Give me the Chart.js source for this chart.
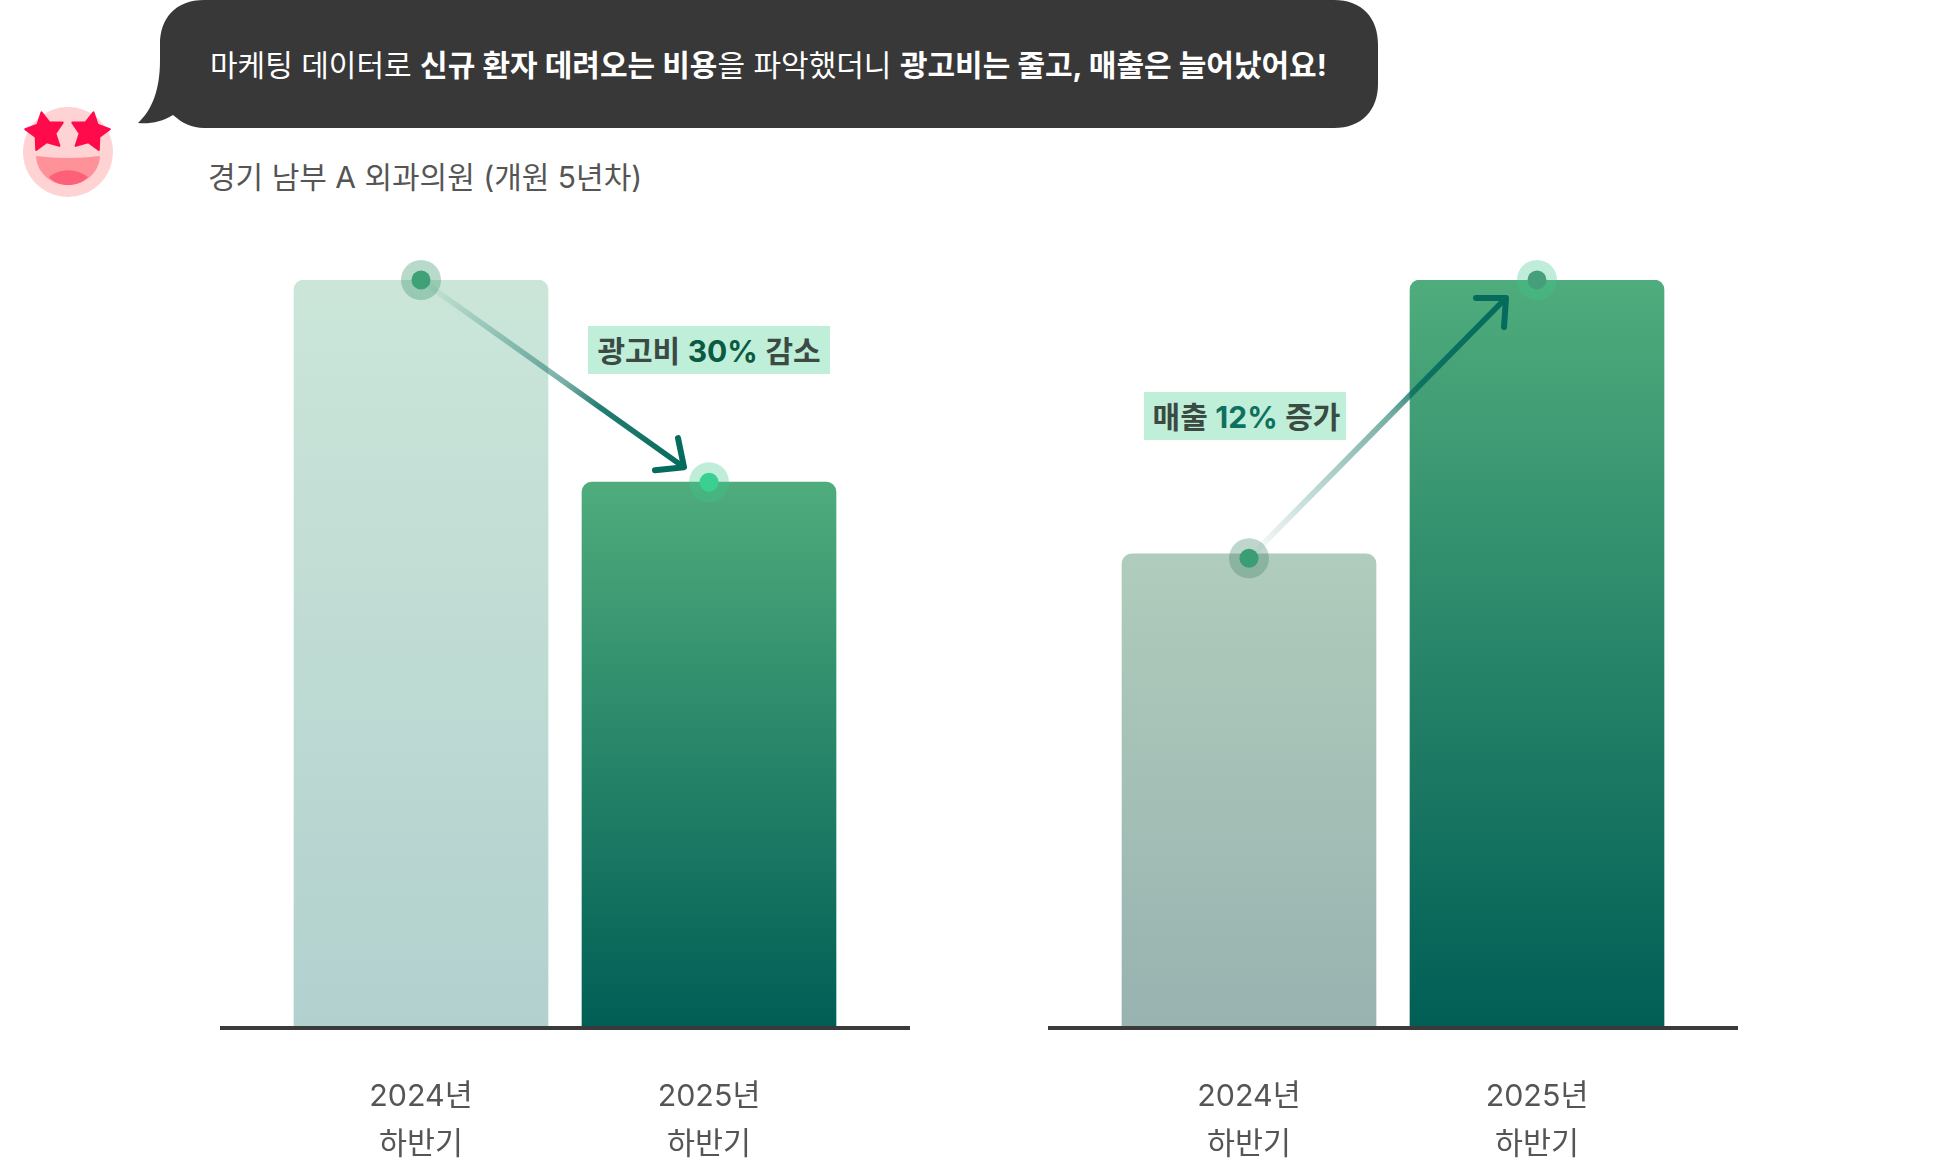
<!DOCTYPE html>
<html lang="ko">
<head>
<meta charset="utf-8">
<title>광고비와 매출 변화</title>
<script src="https://cdn.jsdelivr.net/npm/chart.js@4"></script>
<style>
  html, body { margin: 0; padding: 0; background: #fff; }
  body { width: 1960px; height: 1166px; position: relative; overflow: hidden; font-family: Inter, "Noto Sans CJK KR", sans-serif; }
  canvas { position: absolute; top: 200px; }
  #chart-left { left: 160px; }
  #chart-right { left: 988px; }
  svg { position: absolute; left: 0; top: 0; }
  .quote { position: absolute; left: 210px; top: 44px; font-size: 30px; line-height: 42px; color: #fff; white-space: nowrap; }
  .quote b { font-weight: 700; }
  .who { position: absolute; left: 208px; top: 156px; font-size: 30px; line-height: 42px; color: #555; white-space: nowrap; }
  .tag { position: absolute; height: 48px; line-height: 50px; background: #bfeed9; color: #3c4a44; font-size: 30px; font-weight: 600; text-align: center; white-space: nowrap; }
  #tag-left { left: 588px; top: 326px; width: 242px; }
  #tag-right { left: 1144px; top: 392px; width: 202px; text-indent: 3px; }
  #tag-left span { color: #0b5a42; font-weight: 700; }
  #tag-right span { color: #10705f; font-weight: 700; }
</style>
</head>
<body>
<svg width="1960" height="220" viewBox="0 0 1960 220">
  <path fill="#383838" d="M204,0 H1334 C1362,0 1378,18 1378,44 V84 C1378,110 1362,128 1334,128 H204 C192,128 182,123 173,115 C162,122 150,124 138,123 C152,110 160,90 160,60 V44 C160,18 176,0 204,0 Z"/>
  <circle cx="68" cy="152" r="45" fill="#ffd3d3"/>
  <path fill="#ff9199" d="M36,156 Q68,160 100,156 C99,174 84,185 68,185 C52,185 37,174 36,156 Z"/>
  <path fill="#ff6079" d="M49,177 C60,168 76,168 88,177 C82,183 75,185 68,185 C61,185 54,183 49,177 Z"/>
  <g id="stars" fill="#ff0a4a" stroke="#ff0a4a" stroke-width="2" stroke-linejoin="round"></g>
</svg>
<div class="quote">마케팅 데이터로 <b>신규 환자 데려오는 비용</b>을 파악했더니 <b>광고비는 줄고, 매출은 늘어났어요!</b></div>
<div class="who">경기 남부 A 외과의원 (개원 5년차)</div>
<canvas id="chart-left" width="800" height="966"></canvas>
<canvas id="chart-right" width="800" height="966"></canvas>
<div class="tag" id="tag-left">광고비 <span>30%</span> 감소</div>
<div class="tag" id="tag-right">매출 <span>12%</span> 증가</div>

<script>
// Data (no axis in the original, tallest bar = 100)
const categories = [["2024년", "하반기"], ["2025년", "하반기"]];
const adCost = [100, 72.9];
const revenue = [63.3, 100];
const adCostDots = [100, 72.9];
const revenueDots = [62.7, 100];

const FONT = 'Inter, "Noto Sans CJK KR", sans-serif';

// star eyes of the emoji
function starPoints(cx, cy, rot) {
  const pts = [];
  for (let i = 0; i < 10; i++) {
    const r = i % 2 ? 10.5 : 20;
    const a = ((rot + i * 36 - 90) * Math.PI) / 180;
    pts.push((cx + r * Math.cos(a)).toFixed(1) + "," + (cy + r * Math.sin(a)).toFixed(1));
  }
  return pts.join(" ");
}
document.getElementById("stars").innerHTML =
  '<polygon points="' + starPoints(45, 132, -10) + '"/>' +
  '<polygon points="' + starPoints(90, 132, 10) + '"/>';

// Gradient for one bar, from the top of the bar to the base line
function barGradient(ctx, colors) {
  const { chart, parsed } = ctx;
  if (!chart.chartArea || !parsed) return colors[0];
  const top = chart.scales.y.getPixelForValue(parsed.y);
  const g = chart.ctx.createLinearGradient(0, top, 0, chart.chartArea.bottom);
  g.addColorStop(0, colors[0]);
  g.addColorStop(1, colors[1]);
  return g;
}

// Base line is wider than the plot area, arrow goes between the two dots
const decorations = {
  id: "decorations",
  beforeDatasetsDraw(chart) {
    const c = chart.ctx;
    const y = chart.scales.y.getPixelForValue(0);
    c.save();
    c.fillStyle = "#3a3a3a";
    c.fillRect(chart.chartArea.left - 57, y, chart.chartArea.width + 114, 4);
    c.restore();
  },
  afterDatasetsDraw(chart, args, opts) {
    const c = chart.ctx;
    const dots = chart.getDatasetMeta(opts.dotDataset).data;
    const x0 = dots[0].x;
    const y0 = dots[0].y;
    const x1 = dots[1].x + opts.tip[0];
    const y1 = dots[1].y + opts.tip[1];
    const g = c.createLinearGradient(x0, y0, x1, y1);
    g.addColorStop(0, "rgba(5,107,92,0)");
    g.addColorStop(0.12, "rgba(5,107,92,0.12)");
    g.addColorStop(0.55, "rgba(5,107,92,0.55)");
    g.addColorStop(0.68, "rgba(5,107,92,0.88)");
    g.addColorStop(1, "rgba(5,107,92,1)");
    c.save();
    c.strokeStyle = g;
    c.lineWidth = 5.5;
    c.beginPath();
    c.moveTo(x0, y0);
    c.lineTo(x1, y1);
    c.stroke();
    c.strokeStyle = "#056b5c";
    c.lineWidth = 6;
    c.lineCap = "round";
    c.lineJoin = "round";
    c.beginPath();
    c.moveTo(x1 + opts.wings[0][0], y1 + opts.wings[0][1]);
    c.lineTo(x1, y1);
    c.lineTo(x1 + opts.wings[1][0], y1 + opts.wings[1][1]);
    c.stroke();
    c.restore();
  },
};

function makeChart(id, values, dots, colors, arrow) {
  return new Chart(document.getElementById(id), {
    type: "bar",
    data: {
      labels: categories,
      datasets: [
        {
          type: "line",
          data: dots,
          showLine: false,
          clip: false,
          order: 0,
          pointRadius: 9.5,
          pointHoverRadius: 9.5,
          pointBorderWidth: 0,
          pointBackgroundColor: colors.core,
        },
        {
          type: "line",
          data: dots,
          showLine: false,
          clip: false,
          order: 1,
          pointRadius: 20,
          pointHoverRadius: 20,
          pointBorderWidth: 0,
          pointBackgroundColor: colors.halo,
        },
        {
          data: values,
          order: 2,
          barThickness: 254,
          borderRadius: { topLeft: 10, topRight: 10, bottomLeft: 0, bottomRight: 0 },
          borderSkipped: false,
          backgroundColor: (ctx) => barGradient(ctx, colors.bars[ctx.dataIndex]),
        },
      ],
    },
    options: {
      responsive: false,
      animation: false,
      events: [],
      layout: { padding: { left: 117, right: 107, top: 80, bottom: 0 } },
      plugins: {
        legend: { display: false },
        tooltip: { enabled: false },
        decorations: arrow,
      },
      scales: {
        x: {
          afterFit: (scale) => { scale.height = 140; },
          grid: { display: false, drawTicks: false },
          border: { display: false },
          ticks: {
            padding: 47,
            color: "#555",
            autoSkip: false,
            maxRotation: 0,
            font: { family: FONT, size: 30.4, lineHeight: 1.58 },
          },
        },
        y: { display: false, min: 0, max: 100 },
      },
    },
    plugins: [decorations],
  });
}

const teal = ["#4fac7c", "#005e56"];

makeChart(
  "chart-left",
  adCost,
  adCostDots,
  {
    bars: [["#cbe6d9", "#b2d0ce"], teal],
    core: ["#3fa176", "#3ad092"],
    halo: ["rgba(60,150,110,0.36)", "rgba(60,200,140,0.33)"],
  },
  { dotDataset: 0, tip: [-25, -15], wings: [[-6, -29], [-29, 3]] }
);

makeChart(
  "chart-right",
  revenue,
  revenueDots,
  {
    bars: [["#b0ccbc", "#98b3b0"], teal],
    core: ["#3b9d73", "#459f7a"],
    halo: ["rgba(60,130,100,0.33)", "rgba(60,200,140,0.33)"],
  },
  { dotDataset: 0, tip: [-31, 18], wings: [[-30, 0], [-2, 29]] }
);
</script>
</body>
</html>
